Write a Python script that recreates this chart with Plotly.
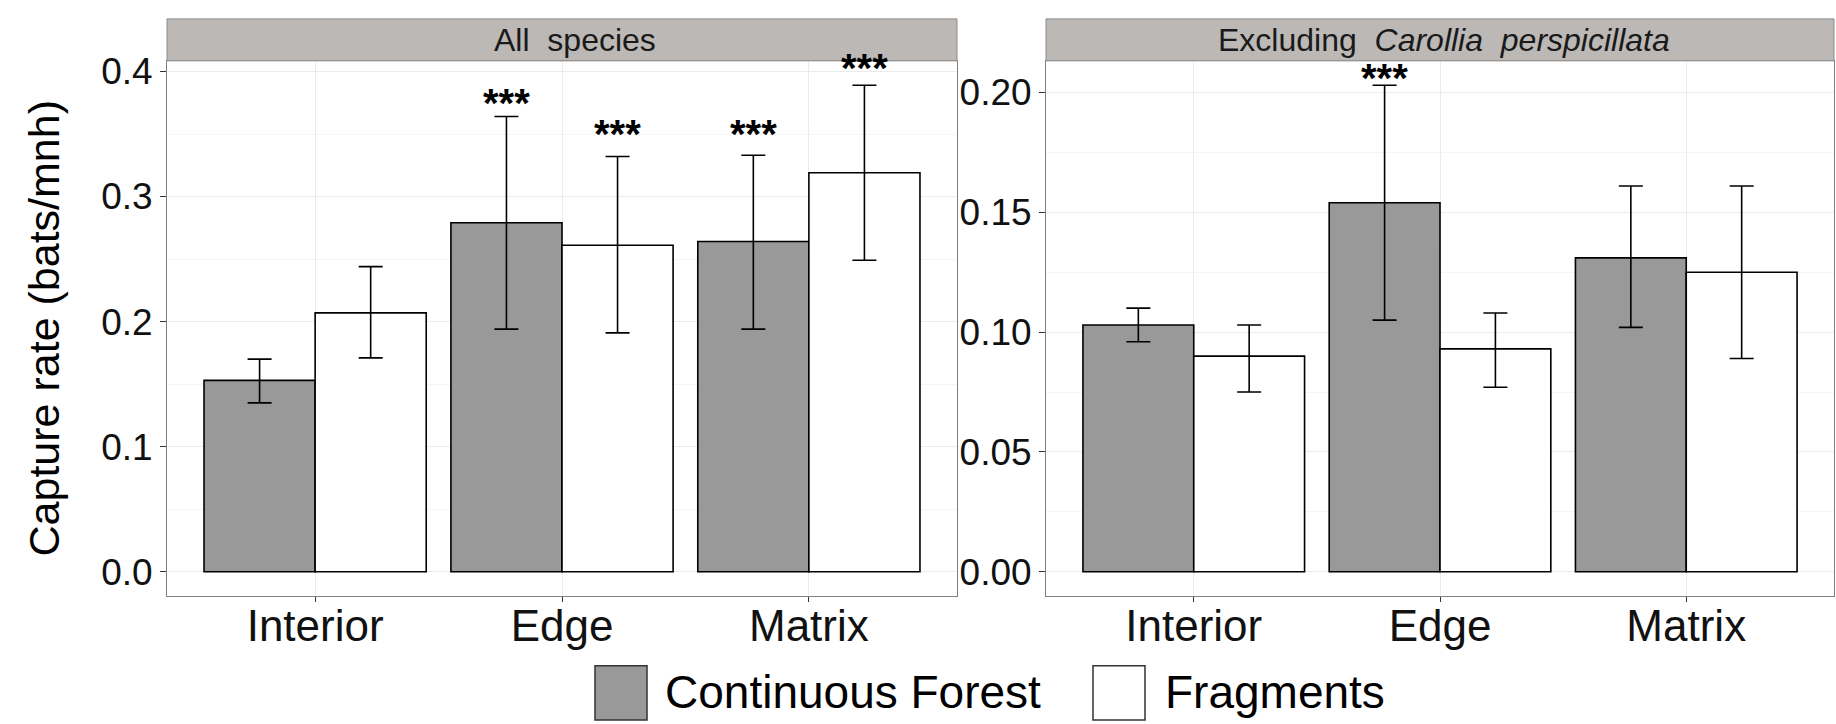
import plotly.graph_objects as go

# ---------------- data ----------------
categories = ["Interior", "Edge", "Matrix"]
series_names = ["Continuous Forest", "Fragments"]

all_cf = [0.153, 0.279, 0.264]
all_cf_lo = [0.135, 0.194, 0.194]
all_cf_hi = [0.170, 0.364, 0.333]
all_fr = [0.207, 0.261, 0.319]
all_fr_lo = [0.171, 0.191, 0.249]
all_fr_hi = [0.244, 0.332, 0.389]

exc_cf = [0.103, 0.154, 0.131]
exc_cf_lo = [0.096, 0.105, 0.102]
exc_cf_hi = [0.110, 0.203, 0.161]
exc_fr = [0.090, 0.093, 0.125]
exc_fr_lo = [0.075, 0.077, 0.089]
exc_fr_hi = [0.103, 0.108, 0.161]

# significance labels and the height of their centres
all_cf_sig = ["", "***", "***"]
all_cf_sig_y = [None, 0.371, 0.346]
all_fr_sig = ["", "***", "***"]
all_fr_sig_y = [None, 0.346, 0.399]
exc_cf_sig = ["", "***", ""]
exc_cf_sig_y = [None, 0.204, None]
exc_fr_sig = ["", "", ""]
exc_fr_sig_y = [None, None, None]

panel_titles = ["All\u00a0 species", "Excluding\u00a0 <i>Carollia\u00a0 perspicillata</i>"]
y_title = "Capture rate (bats/mnh)"

left_ticks = [0.0, 0.1, 0.2, 0.3, 0.4]
right_ticks = [0.00, 0.05, 0.10, 0.15, 0.20]

# ---------------- style ----------------
W, H = 1836, 724
FONT = "Liberation Sans, Arial, sans-serif"
CF_COLOR = "#999999"
FR_COLOR = "#FFFFFF"
STRIP_FILL = "#BCB8B6"
GRID = "#EBEBEB"
MINOR_GRID = "#F5F5F5"
BORDER = "#7F7F7F"

# panel pixel boxes
px_left = (167, 957)
px_right = (1046, 1834)
py_top, py_bot = 52.5, 594.5
strip_top = 10


def fx(p):
    return p / W


def fy(p):
    return (H - p) / H


fig = go.Figure()


def add_bars(xa, ya, vals, lo, hi, color, name, group):
    fig.add_trace(go.Bar(
        x=categories, y=vals, name=name, xaxis=xa, yaxis=ya,
        marker=dict(color=color, line=dict(color="black", width=1.6)),
        offsetgroup=group,
        error_y=dict(type="data", symmetric=False,
                     array=[h - v for h, v in zip(hi, vals)],
                     arrayminus=[v - l for v, l in zip(vals, lo)],
                     color="black", thickness=1.6, width=12),
        showlegend=False,
    ))


add_bars("x", "y", all_cf, all_cf_lo, all_cf_hi, CF_COLOR, series_names[0], "cf")
add_bars("x", "y", all_fr, all_fr_lo, all_fr_hi, FR_COLOR, series_names[1], "fr")
add_bars("x2", "y2", exc_cf, exc_cf_lo, exc_cf_hi, CF_COLOR, series_names[0], "cf")
add_bars("x2", "y2", exc_fr, exc_fr_lo, exc_fr_hi, FR_COLOR, series_names[1], "fr")

annotations = []
shapes = []

BAR_W = 0.45
for xr, yr, sig, sig_y, off in [
    ("x", "y", all_cf_sig, all_cf_sig_y, -BAR_W / 2),
    ("x", "y", all_fr_sig, all_fr_sig_y, BAR_W / 2),
    ("x2", "y2", exc_cf_sig, exc_cf_sig_y, -BAR_W / 2),
    ("x2", "y2", exc_fr_sig, exc_fr_sig_y, BAR_W / 2),
]:
    for i, (s, yy) in enumerate(zip(sig, sig_y)):
        if s:
            annotations.append(dict(
                x=i + off, y=yy, xref=xr, yref=yr, text="<b>" + s + "</b>", showarrow=False,
                xanchor="center", yanchor="middle", yshift=5,
                font=dict(family=FONT, size=40, color="black")))

# strips
for (x0, x1), title, shift in zip([px_left, px_right], panel_titles, [13, 4]):
    shapes.append(dict(type="rect", xref="paper", yref="paper",
                       x0=fx(x0), x1=fx(x1), y0=fy(py_top), y1=fy(strip_top),
                       fillcolor=STRIP_FILL, line=dict(color="#8C8C8C", width=1),
                       layer="above"))
    annotations.append(dict(x=fx((x0 + x1) / 2), y=fy((strip_top + py_top) / 2),
                            xref="paper", yref="paper", text=title, showarrow=False,
                            xanchor="center", yanchor="middle", xshift=shift,
                            font=dict(family=FONT, size=32, color="#1A1A1A")))

# y title
annotations.append(dict(x=fx(44), y=fy((py_top + py_bot) / 2), xref="paper", yref="paper",
                        text=y_title, textangle=-90, showarrow=False,
                        xanchor="center", yanchor="middle",
                        font=dict(family=FONT, size=43, color="black")))

# legend (drawn manually)
legend_items = [(595, 647, 663, CF_COLOR, series_names[0]),
                (1093, 1145, 1163, FR_COLOR, series_names[1])]
for bx0, bx1, tx, col, name in legend_items:
    shapes.append(dict(type="rect", xref="paper", yref="paper",
                       x0=fx(bx0), x1=fx(bx1), y0=fy(720), y1=fy(665),
                       fillcolor=col, line=dict(color="#333333", width=1.5)))
    annotations.append(dict(x=fx(tx), y=fy(692), xref="paper", yref="paper",
                            text=name, showarrow=False, xanchor="left", yanchor="middle",
                            font=dict(family=FONT, size=46, color="black")))

xcommon = dict(type="category", range=[-0.6, 2.6], showgrid=True, gridcolor=GRID,
               gridwidth=1, showline=True, mirror=True, linecolor=BORDER, linewidth=1,
               ticks="outside", ticklen=5, tickcolor="#333333", ticklabelstandoff=-14,
               tickfont=dict(family=FONT, size=44, color="#111111"), zeroline=False)
ycommon = dict(showgrid=True, gridcolor=GRID, gridwidth=1, showline=True, mirror=True,
               linecolor=BORDER, linewidth=1, ticks="outside", ticklen=6,
               tickcolor="#333333", tickfont=dict(family=FONT, size=37, color="#111111"),
               zeroline=False)

fig.update_layout(
    width=W, height=H, autosize=False,
    margin=dict(l=0, r=0, t=0, b=0),
    paper_bgcolor="white", plot_bgcolor="white",
    barmode="group", bargap=0.1, bargroupgap=0,
    showlegend=False,
    xaxis=dict(domain=[fx(px_left[0]), fx(px_left[1])], anchor="y", **xcommon),
    xaxis2=dict(domain=[fx(px_right[0]), fx(px_right[1])], anchor="y2", **xcommon),
    yaxis=dict(domain=[fy(py_bot), fy(py_top)], anchor="x", range=[-0.0195, 0.4085],
               tickvals=left_ticks, tickformat=".1f",
               minor=dict(tickvals=[0.05, 0.15, 0.25, 0.35], showgrid=True,
                          gridcolor=MINOR_GRID, ticks=""),
               **ycommon),
    yaxis2=dict(domain=[fy(py_bot), fy(py_top)], anchor="x2", range=[-0.01015, 0.2132],
                tickvals=right_ticks, tickformat=".2f",
                minor=dict(tickvals=[0.025, 0.075, 0.125, 0.175], showgrid=True,
                           gridcolor=MINOR_GRID, ticks=""),
                **ycommon),
    annotations=annotations,
    shapes=shapes,
)

fig.write_html("out.html")
